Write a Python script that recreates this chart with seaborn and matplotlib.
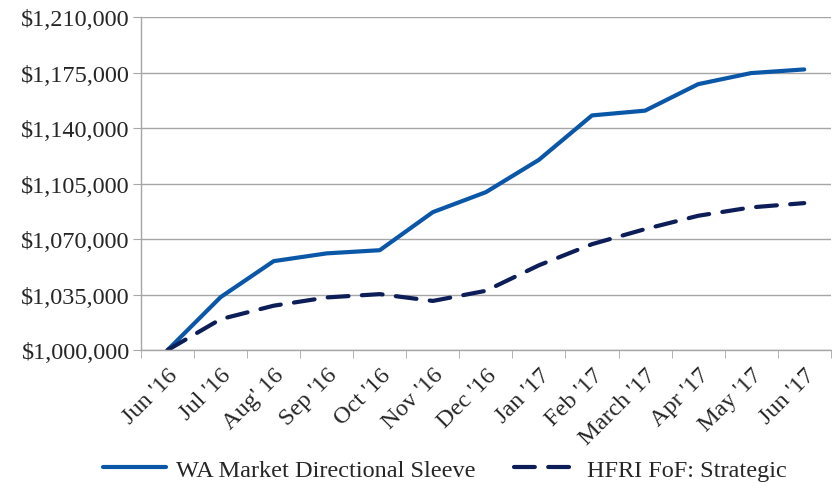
import matplotlib
matplotlib.use("Agg")
import matplotlib.pyplot as plt
import matplotlib.ticker as mticker
import seaborn as sns
import pandas as pd
import numpy as np

months = ["Jun '16", "Jul '16", "Aug' 16", "Sep '16", "Oct '16", "Nov '16", "Dec '16",
          "Jan '17", "Feb '17", "March '17", "Apr '17", "May '17", "Jun '17"]
wa_sleeve = [1000000, 1033400, 1056100, 1061000, 1063000, 1087000, 1099600,
             1120000, 1148000, 1151000, 1167700, 1174700, 1177000]
hfri_fof = [1000000, 1019500, 1028000, 1033200, 1035300, 1031000, 1037400,
            1053500, 1066800, 1076300, 1084700, 1090000, 1092700]
series_names = ["WA Market Directional Sleeve", "HFRI FoF: Strategic"]
y_ticks = [1000000, 1035000, 1070000, 1105000, 1140000, 1175000, 1210000]

df = pd.DataFrame({
    "month": months * 2,
    "value": wa_sleeve + hfri_fof,
    "series": [series_names[0]] * len(months) + [series_names[1]] * len(months),
})

sns.set_style("white")
plt.rcParams['font.family'] = ['Liberation Serif', 'DejaVu Serif']

fig = plt.figure(figsize=(8.32, 4.89), dpi=100)
ax = fig.add_axes([0.1695, 0.282, 0.829, 0.681])

palette = {series_names[0]: '#0a57a8', series_names[1]: '#0c1d58'}
sns.lineplot(data=df, x="month", y="value", hue="series", style="series",
             palette=palette, dashes={series_names[0]: "", series_names[1]: (5, 3.2)},
             linewidth=3.0, sort=False, ax=ax)
for line in ax.get_lines():
    line.set_dash_capstyle('round')
    line.set_solid_capstyle('round')

ax.set_xlim(-0.5, len(months) - 0.5)
ax.set_ylim(y_ticks[0], y_ticks[-1])
ax.set_yticks(y_ticks)
ax.yaxis.set_major_formatter(mticker.FuncFormatter(lambda v, p: f"${v:,.0f}"))
ax.grid(axis='y', color='#a6a6a6', linewidth=1.0)
ax.set_axisbelow(True)

ax.set_xticks(np.arange(len(months)))
ax.set_xticklabels(months, rotation=45, ha='right', rotation_mode='anchor')
ax.set_xticks(np.arange(len(months) + 1) - 0.5, minor=True)
ax.tick_params(axis='x', which='major', length=0, labelsize=17.5, pad=10)
ax.tick_params(axis='x', which='minor', length=6, color='#a6a6a6', direction='out', bottom=True)
ax.tick_params(axis='y', length=6, color='#a6a6a6', direction='out', left=True, labelsize=17.5, pad=2)

for side in ['top', 'right']:
    ax.spines[side].set_visible(False)
for side in ['left', 'bottom']:
    ax.spines[side].set_color('#a6a6a6')
    ax.spines[side].set_linewidth(1.0)

ax.set_xlabel("")
ax.set_ylabel("")

handles, labels = ax.get_legend_handles_labels()
ax.get_legend().remove()
fig.legend(handles, labels, loc='lower center', bbox_to_anchor=(0.535, -0.03), ncol=2,
           frameon=False, fontsize=17.5, handlelength=2.6, columnspacing=1.6, handletextpad=0.4)

fig.savefig("out.png", dpi=100)
